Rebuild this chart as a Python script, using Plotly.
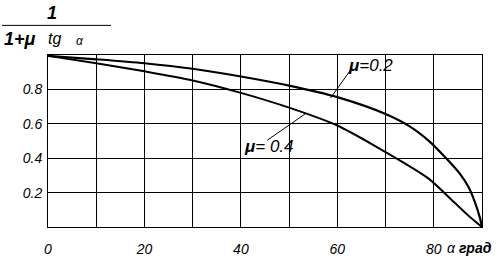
import plotly.graph_objects as go

# Data
alpha_mu02 = [0, 10, 20, 30, 40, 50, 60, 70, 75, 79.2, 82.7, 85.4, 87.2, 88.6, 89.6, 90]
value_mu02 = [0.995, 0.975, 0.952, 0.92, 0.875, 0.822, 0.755, 0.657, 0.585, 0.495, 0.395, 0.31, 0.232, 0.139, 0.05, 0.0]

alpha_mu04 = [0, 10, 20, 30, 40, 50, 60, 69, 74, 79, 84.4, 87.5, 90]
value_mu04 = [0.995, 0.952, 0.905, 0.852, 0.78, 0.694, 0.59, 0.452, 0.37, 0.28, 0.139, 0.058, 0.0]

x_tickvals = [0, 10, 20, 30, 40, 50, 60, 70, 80, 90]
x_ticktext = ["0", "", "20", "", "40", "", "60", "", "80", ""]
y_tickvals = [0, 0.2, 0.4, 0.6, 0.8, 1.0]
y_ticktext = ["", "0.2", "0.4", "0.6", "0.8", ""]

FONT = "Liberation Sans Narrow, Liberation Sans, Arial, sans-serif"

fig = go.Figure()
fig.add_trace(go.Scatter(x=alpha_mu02, y=value_mu02, mode="lines",
                         line=dict(color="black", width=2.2, shape="spline", smoothing=0.8),
                         name="μ=0.2"))
fig.add_trace(go.Scatter(x=alpha_mu04, y=value_mu04, mode="lines",
                         line=dict(color="black", width=2, shape="spline", smoothing=0.8),
                         name="μ=0.4"))

fig.update_layout(
    width=503, height=269,
    margin=dict(l=48, r=21, t=55, b=34),
    paper_bgcolor="white", plot_bgcolor="white",
    showlegend=False,
    font=dict(family=FONT, size=13, color="black"),
)
fig.update_xaxes(range=[0, 90], tickvals=x_tickvals, ticktext=x_ticktext,
                 showgrid=True, gridcolor="black", gridwidth=1,
                 showline=True, linecolor="black", linewidth=1, mirror=True,
                 zeroline=False, ticks="", ticklabelstandoff=9,
                 tickfont=dict(family=FONT, size=14, style="italic"))
fig.update_yaxes(range=[0, 1.0], tickvals=y_tickvals, ticktext=y_ticktext,
                 showgrid=True, gridcolor="black", gridwidth=1,
                 showline=True, linecolor="black", linewidth=1, mirror=True,
                 zeroline=False, ticks="", ticklabelstandoff=2,
                 tickfont=dict(family=FONT, size=14, style="italic"))

# leader lines for curve labels
fig.add_shape(type="line", x0=58.6, y0=0.75, x1=62.6, y1=0.907,
              line=dict(color="black", width=1))
fig.add_shape(type="line", x0=53.3, y0=0.657, x1=45.5, y1=0.505,
              line=dict(color="black", width=1))

fig.add_annotation(x=61.8, y=0.94, xanchor="left", yanchor="middle", showarrow=False,
                   text="<b><i>μ</i></b>=0.2", font=dict(family=FONT, size=17, style="italic"))
fig.add_annotation(x=40.3, y=0.47, xanchor="left", yanchor="middle", showarrow=False,
                   text="<b><i>μ</i></b>= 0.4", font=dict(family=FONT, size=17, style="italic"))

# axis name
fig.add_annotation(x=(445 - 48) / 434, y=(235 - 257) / 180, xref="paper", yref="paper",
                   xanchor="left", yanchor="middle", showarrow=False,
                   text="<i>α</i> <b><i>град</i></b>",
                   font=dict(family=FONT, size=14))

# y-axis formula label (fraction)
fig.add_annotation(x=(52 - 48) / 434, y=(235 - 11) / 180, xref="paper", yref="paper",
                   xanchor="center", yanchor="middle", showarrow=False,
                   text="<b><i>1</i></b>", font=dict(family=FONT, size=18))
fig.add_shape(type="line", xref="paper", yref="paper",
              x0=(2 - 48) / 434, x1=(111 - 48) / 434,
              y0=(235 - 24) / 180, y1=(235 - 24) / 180,
              line=dict(color="black", width=1))
fig.add_annotation(x=(2 - 48) / 434, y=(235 - 38) / 180, xref="paper", yref="paper",
                   xanchor="left", yanchor="middle", showarrow=False,
                   text="<b><i>1+μ</i></b>", font=dict(family=FONT, size=18))
fig.add_annotation(x=(46 - 48) / 434, y=(235 - 38) / 180, xref="paper", yref="paper",
                   xanchor="left", yanchor="middle", showarrow=False,
                   text="<i>tg</i>", font=dict(family=FONT, size=16))
fig.add_annotation(x=(74 - 48) / 434, y=(235 - 40) / 180, xref="paper", yref="paper",
                   xanchor="left", yanchor="middle", showarrow=False,
                   text="<i>α</i>", font=dict(family=FONT, size=12))

fig.write_html("out.html")
